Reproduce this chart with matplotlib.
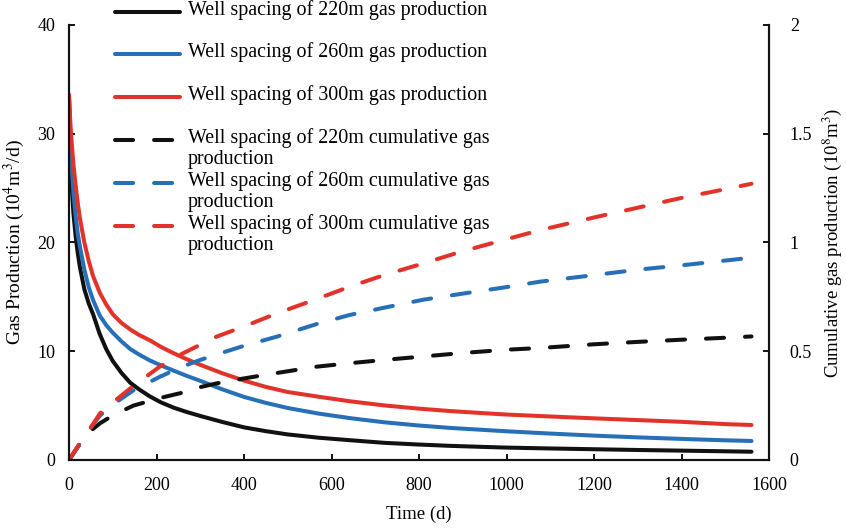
import matplotlib
matplotlib.use('Agg')
import matplotlib.pyplot as plt
from matplotlib.lines import Line2D

plt.rcParams['font.family'] = ['Liberation Serif', 'DejaVu Serif']
plt.rcParams['mathtext.fontset'] = 'stix'

# daily gas production (10^4 m3/d)
t_rate = [0, 3, 6, 10, 15, 20, 25, 35, 45, 55, 70, 85, 100, 120, 140, 160, 185,
          210, 240, 270, 300, 350, 400, 450, 500, 570, 642, 720, 800, 871, 950,
          1000, 1100, 1200, 1300, 1400, 1500, 1560]
rate_220 = [33.0, 28.0, 25.2, 22.7, 20.6, 19.0, 17.7, 15.7, 14.4, 13.4, 11.6, 10.2,
            9.1, 8.0, 7.1, 6.5, 5.84, 5.3, 4.8, 4.4, 4.05, 3.5, 3.0, 2.65, 2.35, 2.05,
            1.82, 1.58, 1.42, 1.3, 1.2, 1.14, 1.06, 0.99, 0.92, 0.86, 0.8, 0.76]
rate_260 = [33.3, 29.5, 27.0, 24.6, 22.5, 20.8, 19.6, 17.5, 15.9, 14.7, 13.3, 12.4,
            11.7, 10.9, 10.2, 9.7, 9.15, 8.7, 8.2, 7.72, 7.28, 6.5, 5.8, 5.25, 4.78,
            4.27, 3.85, 3.47, 3.17, 2.95, 2.76, 2.64, 2.43, 2.24, 2.08, 1.94, 1.81, 1.75]
rate_300 = [33.6, 31.0, 29.2, 27.2, 25.3, 23.6, 22.2, 20.0, 18.3, 16.9, 15.4, 14.3,
            13.4, 12.6, 12.0, 11.5, 11.0, 10.4, 9.8, 9.25, 8.75, 7.98, 7.3, 6.72, 6.25,
            5.82, 5.4, 5.02, 4.72, 4.5, 4.3, 4.18, 4.0, 3.83, 3.67, 3.51, 3.3, 3.22]

# cumulative gas production (10^8 m3)
t_cum = [0, 25, 50, 71, 100, 147, 208, 260, 300, 337, 400, 475, 566, 642, 720, 810,
         900, 1000, 1077, 1200, 1300, 1400, 1500, 1560]
cum_220 = [0, 0.075, 0.135, 0.169, 0.205, 0.25, 0.285, 0.31, 0.335, 0.352, 0.375, 0.40,
           0.429, 0.445, 0.46, 0.476, 0.492, 0.507, 0.515, 0.532, 0.543, 0.553, 0.562,
           0.568]
cum_260 = [0, 0.077, 0.15, 0.205, 0.255, 0.32, 0.383, 0.43, 0.46, 0.485, 0.525, 0.567,
           0.625, 0.667, 0.70, 0.737, 0.765, 0.795, 0.82, 0.85, 0.875, 0.895, 0.917,
           0.93]
cum_300 = [0, 0.077, 0.15, 0.215, 0.265, 0.34, 0.43, 0.49, 0.53, 0.567, 0.614, 0.674,
           0.74, 0.797, 0.85, 0.904, 0.96, 1.015, 1.057, 1.115, 1.16, 1.205, 1.245, 1.27]

labels = ['Well spacing of 220m gas production',
          'Well spacing of 260m gas production',
          'Well spacing of 300m gas production',
          'Well spacing of 220m cumulative gas\nproduction',
          'Well spacing of 260m cumulative gas\nproduction',
          'Well spacing of 300m cumulative gas\nproduction']

black = '#111111'
blue = '#2770B8'
red = '#E2332A'
lw = 2.9
dash = (4.5, 5.2)

fig = plt.figure(figsize=(8.46, 5.28), dpi=100)
ax = fig.add_axes([0.0816, 0.1288, 0.8274, 0.8239])
ax2 = ax.twinx()

ax.plot(t_rate, rate_220, color=black, lw=lw, solid_capstyle='round')
ax.plot(t_rate, rate_260, color=blue, lw=lw, solid_capstyle='round')
ax.plot(t_rate, rate_300, color=red, lw=lw, solid_capstyle='round')
for c, col in zip([cum_220, cum_260, cum_300], [black, blue, red]):
    ax2.plot(t_cum, c, color=col, lw=lw, dashes=dash, dash_capstyle='round')

ax.set_xlim(0, 1600)
ax.set_ylim(0, 40)
ax2.set_ylim(0, 2)
ax.set_xticks(range(0, 1601, 200))
ax.set_yticks(range(0, 41, 10))
ax2.set_yticks([0, 0.5, 1, 1.5, 2])
ax2.set_yticklabels(['0', '0.5', '1', '1.5', '2'])

for a in (ax, ax2):
    a.spines['top'].set_visible(False)
    for s in ('left', 'right', 'bottom'):
        a.spines[s].set_linewidth(1.5)
        a.spines[s].set_color(black)
ax.tick_params(direction='in', length=4, width=1.3, labelsize=13, pad=10)
ax.tick_params(axis='x', pad=12)
ax2.tick_params(direction='in', length=4, width=1.3, labelsize=13, pad=15)

ax.set_xlabel('Time (d)', fontsize=13.5, labelpad=9)
ax.set_ylabel('Gas Production (10$^4$m$^3$/d)', fontsize=14, labelpad=7)
ax2.set_ylabel('Cumulative gas production (10$^8$m$^3$)', fontsize=13.5, labelpad=6)

# legend drawn by hand above the curves
W, H = 846, 528
rows = [(12, black, None), (54, blue, None), (97, red, None),
        (140, black, dash), (183, blue, dash), (226, red, dash)]
for (y, col, d), lab in zip(rows, labels):
    yf = 1 - y / H
    kw = dict(dashes=d, dash_capstyle='round') if d else dict(solid_capstyle='round')
    fig.add_artist(Line2D([115 / W, 180 / W], [yf, yf], color=col, lw=lw,
                          transform=fig.transFigure, **kw))
    fig.text(188 / W, yf + 12 / H, lab, fontsize=14.4, va='top', ha='left',
             linespacing=1.15)

fig.savefig('out.png', dpi=100)
